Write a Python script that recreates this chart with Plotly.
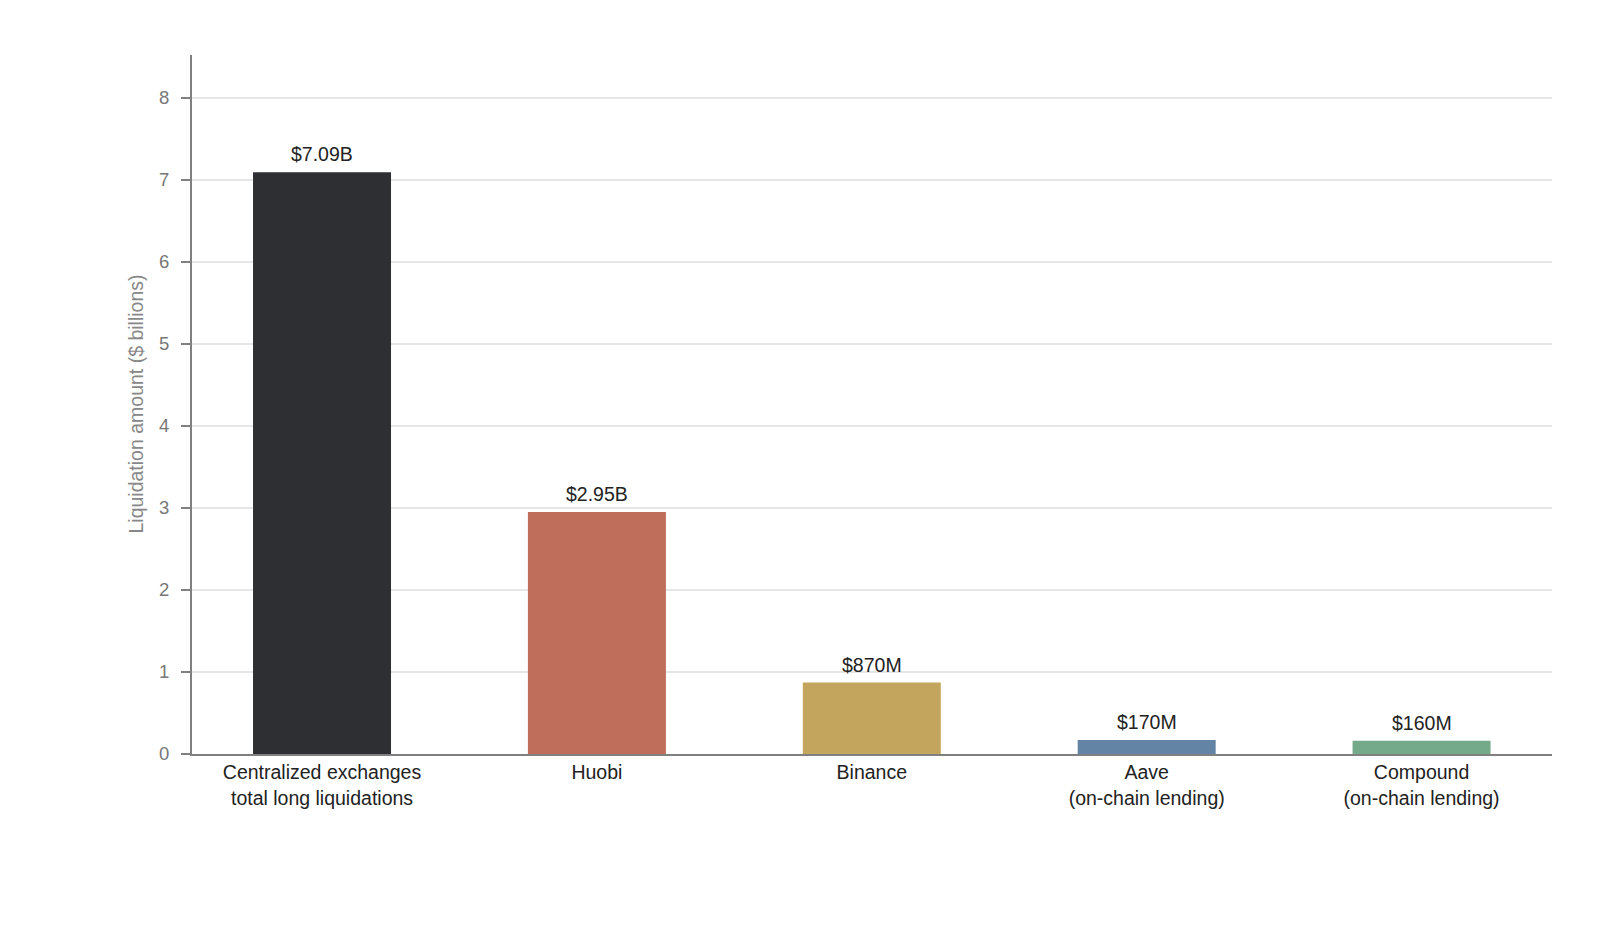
import plotly.graph_objs as go

categories = ['Centralized exchanges<br>total long liquidations', 'Huobi', 'Binance',
              'Aave<br>(on-chain lending)', 'Compound<br>(on-chain lending)']
amounts = [7.09, 2.95, 0.87, 0.17, 0.16]
labels = ['$7.09B', '$2.95B', '$870M', '$170M', '$160M']
colors = ['#2d2f33', '#bf6e5c', '#c4a55d', '#6384a5', '#74a98a']

data = [go.Bar(x=categories,
               y=amounts,
               marker=dict(color=colors, line=dict(width=0)),
               width=0.502,
               hovertext=labels)]

# value labels sit a little higher above the bars than plotly's outside text
notes = [dict(x=c, y=v, text=t, xref='x', yref='y', showarrow=False,
              xanchor='center', yanchor='bottom', yshift=5,
              font=dict(size=19.5, color='#222222'))
         for c, v, t in zip(categories, amounts, labels)]

notes.append(dict(text='Liquidation amount ($ billions)', textangle=-90,
                  xref='paper', yref='paper', x=-0.0419, y=0.5,
                  xanchor='center', yanchor='middle', showarrow=False,
                  font=dict(size=19.5, color='#888888')))

# page body has an 8px margin, so the figure is sized to fit inside it
layout = go.Layout(
    width=1584, height=926,
    plot_bgcolor='white', paper_bgcolor='white',
    font=dict(family='Liberation Sans, Arial, sans-serif'),
    margin=dict(l=184, r=40, t=47, b=180),
    showlegend=False,
    xaxis=dict(showline=True, linecolor='#808080', linewidth=2,
               ticks='', tickfont=dict(size=19.5, color='#222222'),
               range=[-0.473, 4.4745]),
    yaxis=dict(range=[0, 8.52], dtick=1, showline=True, linecolor='#808080', linewidth=2,
               ticks='outside', ticklen=9, tickcolor='#808080', tickwidth=2,
               ticklabelstandoff=8,
               tickfont=dict(size=18.5, color='#777777'),
               gridcolor='#e6e6e6', gridwidth=1.5, zeroline=False),
    annotations=notes,
)

fig = go.Figure(data=data, layout=layout)
fig.write_html('out.html')
